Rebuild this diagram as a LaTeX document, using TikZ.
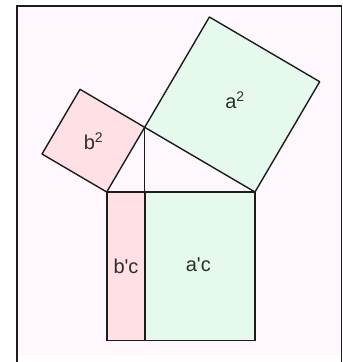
\documentclass[tikz,border=0pt]{standalone}
\usepackage{fontspec}
\setmainfont{Liberation Sans}
\usetikzlibrary{calc}
\definecolor{pageTint}{RGB}{254,248,254}
\definecolor{sqPink}{RGB}{255,224,229}
\definecolor{sqGreen}{RGB}{229,250,237}
\definecolor{edgeInk}{RGB}{28,28,28}
\definecolor{labelInk}{RGB}{45,45,45}

\begin{document}
\begin{tikzpicture}[x=1pt,y=-1pt]
\path[use as bounding box] (0,0) rectangle (343,362);
\fill[pageTint] (17,5.5) rectangle (341.5,356);
\draw[edgeInk,line width=2pt] (17,362) -- (17,5.5) -- (341.5,5.5);
\draw[edgeInk,line width=1.5pt] (341.5,5.5) -- (341.5,362);

% right triangle and the foot of its altitude
\coordinate (A) at (144.7,127.3);
\coordinate (B) at (106.7,192);
\coordinate (C) at (255,192);
\coordinate (D) at (144.7,192);
% outer corners of the squares
\coordinate (Ab) at (80,89.3);
\coordinate (Bb) at (42,154);
\coordinate (Aa) at (209.4,17);
\coordinate (Ca) at (319.7,81.7);
\coordinate (Bc) at (106.7,340.3);
\coordinate (Dc) at (144.7,340.3);
\coordinate (Cc) at (255,340.3);

\draw[edgeInk,fill=sqPink,line width=1.4pt,line join=round] (B) -- (A) -- (Ab) -- (Bb) -- cycle;
\draw[edgeInk,fill=sqGreen,line width=1.4pt,line join=round] (A) -- (Aa) -- (Ca) -- (C) -- cycle;
\draw[edgeInk,fill=sqPink,line width=1.6pt] (B) rectangle (Dc);
\draw[edgeInk,fill=sqGreen,line width=1.6pt] (D) rectangle (Cc);
\draw[edgeInk,line width=1pt] (A) -- (D);

\node[text=labelInk,font=\fontsize{20}{22}\selectfont,inner sep=0pt] (bsq) at (93.5,141) {b\textsuperscript{2}};
\node[text=labelInk,font=\fontsize{20}{22}\selectfont,inner sep=0pt] (asq) at (235,100) {a\textsuperscript{2}};
\node[text=labelInk,font=\fontsize{20}{22}\selectfont,inner sep=0pt] (bc) at (126,266) {b\textquotesingle c};
\node[text=labelInk,font=\fontsize{20}{22}\selectfont,inner sep=0pt] (ac) at (198.3,264.5) {a\textquotesingle c};
\end{tikzpicture}
\end{document}
